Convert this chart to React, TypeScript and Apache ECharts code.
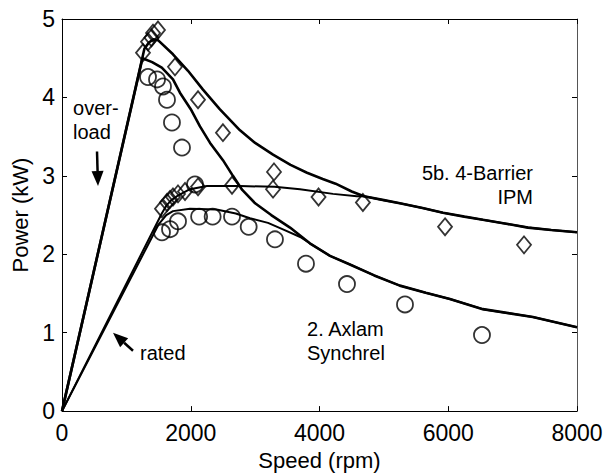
import React, { useEffect, useRef } from "react";
import * as echarts from "echarts";

const xTicks = [0, 2000, 4000, 6000, 8000];
const yTicks = [0, 1, 2, 3, 4, 5];

// Model curves (speed rpm, power kW)
const ipmOverloadModel = [
  [0, 0], [1280, 4.62], [1350, 4.7], [1420, 4.74], [1491, 4.73], [1724, 4.55],
  [1957, 4.34], [2190, 4.1], [2450, 3.85], [2765, 3.58], [3000, 3.42], [3278, 3.27],
  [3550, 3.14], [3806, 3.04], [4050, 2.96], [4250, 2.9], [4500, 2.8], [4690, 2.74],
  [5000, 2.69], [5248, 2.65], [5600, 2.59], [5918, 2.53], [6250, 2.48], [6537, 2.44],
  [6900, 2.39], [7239, 2.34], [7600, 2.31], [8000, 2.28],
];
const ipmRatedModel = [
  [0, 0], [1550, 2.52], [1620, 2.62], [1700, 2.69], [1786, 2.74], [1988, 2.83], [2252, 2.87],
  [2765, 2.87], [3300, 2.86], [3697, 2.83], [4210, 2.77], [4580, 2.74], [4690, 2.74],
  [5000, 2.69], [5248, 2.65], [5600, 2.59], [5918, 2.53], [6250, 2.48], [6537, 2.44],
  [6900, 2.39], [7239, 2.34], [7600, 2.31], [8000, 2.28],
];
const axlamOverloadModel = [
  [0, 0], [1250, 4.5], [1400, 4.45], [1550, 4.38], [1724, 4.23], [1832, 4.06], [2000, 3.85],
  [2143, 3.63], [2300, 3.42], [2500, 3.2], [2655, 3.0], [2800, 2.82], [3000, 2.65], [3250, 2.5],
  [3542, 2.34], [3850, 2.14], [4163, 1.98], [4472, 1.87], [4850, 1.73], [5248, 1.6],
  [5650, 1.51], [6025, 1.43], [6537, 1.3], [7314, 1.2], [8000, 1.07],
];
const axlamRatedModel = [
  [0, 0], [1500, 2.38], [1620, 2.5], [1724, 2.55], [1988, 2.58], [2400, 2.57], [2700, 2.52],
  [2920, 2.46], [3200, 2.4], [3450, 2.31], [3700, 2.22], [3850, 2.14], [4163, 1.98],
  [4472, 1.87], [4850, 1.73], [5248, 1.6], [5650, 1.51], [6025, 1.43], [6537, 1.3],
  [7314, 1.2], [8000, 1.07],
];

// Measured points
const ipmMeasured = [
  [1258, 4.57], [1336, 4.71], [1390, 4.76], [1414, 4.82], [1491, 4.86], [1755, 4.39],
  [2113, 3.97], [2500, 3.55], [3293, 3.05],
  [1553, 2.58], [1631, 2.66], [1678, 2.7], [1724, 2.73], [1802, 2.77], [1911, 2.8],
  [2113, 2.86], [2641, 2.88], [3278, 2.83], [3985, 2.73], [4674, 2.66], [5950, 2.35], [7177, 2.12],
];
const axlamMeasured = [
  [1336, 4.26], [1476, 4.23], [1569, 4.14], [1631, 3.97], [1708, 3.68], [1864, 3.36],
  [2066, 2.89],
  [1553, 2.28], [1678, 2.32], [1802, 2.42], [2130, 2.48], [2340, 2.48], [2641, 2.48],
  [2900, 2.35], [3308, 2.19], [3790, 1.88], [4427, 1.62], [5328, 1.36], [6524, 0.97],
];

// Annotations in data coordinates (anchor = centre of the text block)
const textNotes = [
  { text: "over-\nload", at: [171, 3.71], align: "left" },
  { text: "rated", at: [1212, 0.74], align: "left" },
  { text: "5b. 4-Barrier\nIPM", at: [7317, 2.885], align: "right" },
  { text: "2. Axlam\nSynchrel", at: [3806, 0.89], align: "left" },
];
const arrowNotes = [
  { from: [544, 3.31], to: [559, 2.87] },
  { from: [1103, 0.77], to: [792, 1.0] },
];

const FONT = "'Liberation Sans', Arial, Helvetica, sans-serif";

export default function App() {
  const ref = useRef<HTMLDivElement>(null);
  useEffect(() => {
    const chart = echarts.init(ref.current!, null, { renderer: "svg" });
    const lineSeries = (data: number[][], w: number) => ({
      type: "line",
      data,
      showSymbol: false,
      symbol: "none",
      silent: true,
      lineStyle: { color: "#000", width: w },
      z: 2,
    });
    const axisCommon = {
      type: "value",
      axisLine: { show: true, onZero: false, lineStyle: { color: "#000", width: 1 } },
      axisTick: { show: true, inside: true, length: 5, lineStyle: { color: "#000", width: 1 } },
      splitLine: { show: false },
    };
    chart.setOption({
      animation: false,
      backgroundColor: "#fff",
      grid: { left: 62, right: 33, top: 19, bottom: 63 },
      xAxis: [
        {
          ...axisCommon,
          min: xTicks[0],
          max: xTicks[xTicks.length - 1],
          interval: 2000,
          position: "bottom",
          name: "Speed (rpm)",
          nameLocation: "middle",
          nameGap: 37,
          nameTextStyle: { fontFamily: FONT, fontSize: 22, color: "#000" },
          axisLabel: {
            fontFamily: FONT,
            fontSize: 23,
            color: "#000",
            margin: 10,
            formatter: (v: number) => String(v),
          },
        },
        {
          ...axisCommon,
          min: xTicks[0],
          max: xTicks[xTicks.length - 1],
          interval: 2000,
          position: "top",
          axisLabel: { show: false },
        },
      ],
      yAxis: [
        {
          ...axisCommon,
          min: yTicks[0],
          max: yTicks[yTicks.length - 1],
          interval: 1,
          position: "left",
          name: "Power (kW)",
          nameLocation: "middle",
          nameGap: 30,
          nameTextStyle: { fontFamily: FONT, fontSize: 22, color: "#000" },
          axisLabel: {
            fontFamily: FONT,
            fontSize: 23,
            color: "#000",
            margin: 7,
            formatter: (v: number) => String(v),
          },
        },
        {
          ...axisCommon,
          min: yTicks[0],
          max: yTicks[yTicks.length - 1],
          interval: 1,
          position: "right",
          axisLine: { show: true, onZero: false, lineStyle: { color: "#555", width: 1 } },
          axisLabel: { show: false },
        },
      ],
      series: [
        lineSeries(ipmOverloadModel, 2.6),
        lineSeries(axlamOverloadModel, 2.6),
        lineSeries(ipmRatedModel, 2),
        lineSeries(axlamRatedModel, 2),
        {
          type: "scatter",
          data: ipmMeasured,
          symbol: "diamond",
          symbolSize: [14, 17],
          silent: true,
          itemStyle: { color: "rgba(0,0,0,0)", borderColor: "#000", borderWidth: 1.8 },
          z: 3,
        },
        {
          type: "scatter",
          data: axlamMeasured,
          symbol: "circle",
          symbolSize: 16,
          silent: true,
          itemStyle: { color: "rgba(0,0,0,0)", borderColor: "#000", borderWidth: 1.8 },
          z: 3,
        },
      ],
    });

    const px = (p: number[]) =>
      chart.convertToPixel({ xAxisIndex: 0, yAxisIndex: 0 }, p) as number[];
    const graphics: any[] = [];
    textNotes.forEach((n) => {
      const [x, y] = px(n.at);
      graphics.push({
        type: "text",
        x,
        y,
        silent: true,
        style: {
          text: n.text,
          fontFamily: FONT,
          fontSize: 20,
          lineHeight: 24,
          fill: "#000",
          align: n.align,
          verticalAlign: "middle",
        },
        z: 10,
      });
    });
    arrowNotes.forEach((a) => {
      const [x1, y1] = px(a.from);
      const [x2, y2] = px(a.to);
      const dx = x2 - x1;
      const dy = y2 - y1;
      const len = Math.sqrt(dx * dx + dy * dy);
      const ux = dx / len;
      const uy = dy / len;
      const hl = 15;
      const hw = 6;
      const bx = x2 - ux * hl;
      const by = y2 - uy * hl;
      graphics.push({
        type: "line",
        silent: true,
        shape: { x1, y1, x2: bx, y2: by },
        style: { stroke: "#000", lineWidth: 2.5 },
        z: 10,
      });
      graphics.push({
        type: "polygon",
        silent: true,
        shape: {
          points: [
            [x2, y2],
            [bx - uy * hw, by + ux * hw],
            [bx + uy * hw, by - ux * hw],
          ],
        },
        style: { fill: "#000" },
        z: 10,
      });
    });
    chart.setOption({ graphic: graphics });
    return () => chart.dispose();
  }, []);
  return (
    <div
      ref={ref}
      style={{ position: "fixed", left: 0, top: 0, width: 610, height: 476, background: "#fff" }}
    />
  );
}
